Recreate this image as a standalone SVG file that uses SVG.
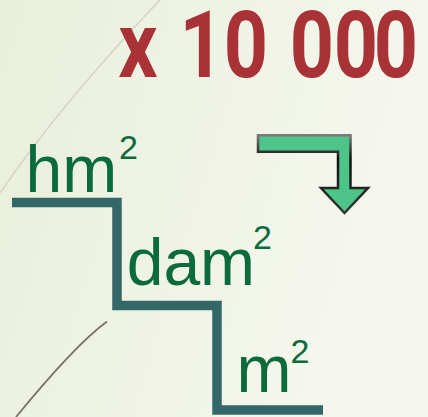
<svg xmlns="http://www.w3.org/2000/svg" width="428" height="417" viewBox="0 0 428 417">
<defs>
<linearGradient id="bg" x1="0" y1="0" x2="1" y2="0.3">
<stop offset="0" stop-color="#e9efda"/>
<stop offset="1" stop-color="#f5f7ef"/>
</linearGradient>
<linearGradient id="arrowStroke" x1="0" y1="0" x2="0" y2="1">
<stop offset="0" stop-color="#7a7a7a"/>
<stop offset="0.3" stop-color="#111"/>
<stop offset="1" stop-color="#333"/>
</linearGradient>
<style>
.lbl{font-family:"Liberation Sans",Arial,sans-serif;fill:#0b6b3a}
.big{font-size:66px}
.sup{font-size:34px}
.factor{font-family:Roboto,"Liberation Sans",sans-serif;font-weight:bold;font-size:93px;fill:#a83236}
.stairs{fill:none;stroke:#346767;stroke-width:9.5;stroke-linejoin:miter}
</style>
</defs>
<rect width="428" height="417" fill="url(#bg)"/>
<path d="M160,0 Q60,105 0,193" fill="none" stroke="#d2d5c3" stroke-width="1.5"/>
<path d="M107,321.5 Q75,345 16,417" fill="none" stroke="#7a7360" stroke-width="1.8"/>
<g id="factor" transform="scale(0.83,1)">
<text class="factor" x="142.6" y="77">x</text>
<text class="factor" x="216.3" y="77">1</text>
<text class="factor" x="269.5" y="77">0</text>
<text class="factor" x="349" y="77">0</text>
<text class="factor" x="402" y="77">0</text>
<text class="factor" x="450.2" y="77">0</text>
</g>
<g id="arrow">
<path d="M258,135.3 H350.5 V188 H368 L344.5,213 L321,188 H338 V151.7 H258 Z" fill="#4dc488" stroke="url(#arrowStroke)" stroke-width="2.5" stroke-linejoin="miter"/>
</g>
<g id="connectors">
<path class="stairs" d="M12,202.5 H117 V305.5 H217 V410 H323"/>
</g>
<g id="hm2">
<text class="lbl big" x="25.6" y="191.5">hm</text>
<text class="lbl sup" x="119" y="159">2</text>
</g>
<g id="dam2">
<text class="lbl big" x="126.7" y="285">dam</text>
<text class="lbl sup" x="253" y="249">2</text>
</g>
<g id="m2">
<text class="lbl big" x="236.6" y="391.7">m</text>
<text class="lbl sup" x="290.5" y="363">2</text>
</g>
</svg>
